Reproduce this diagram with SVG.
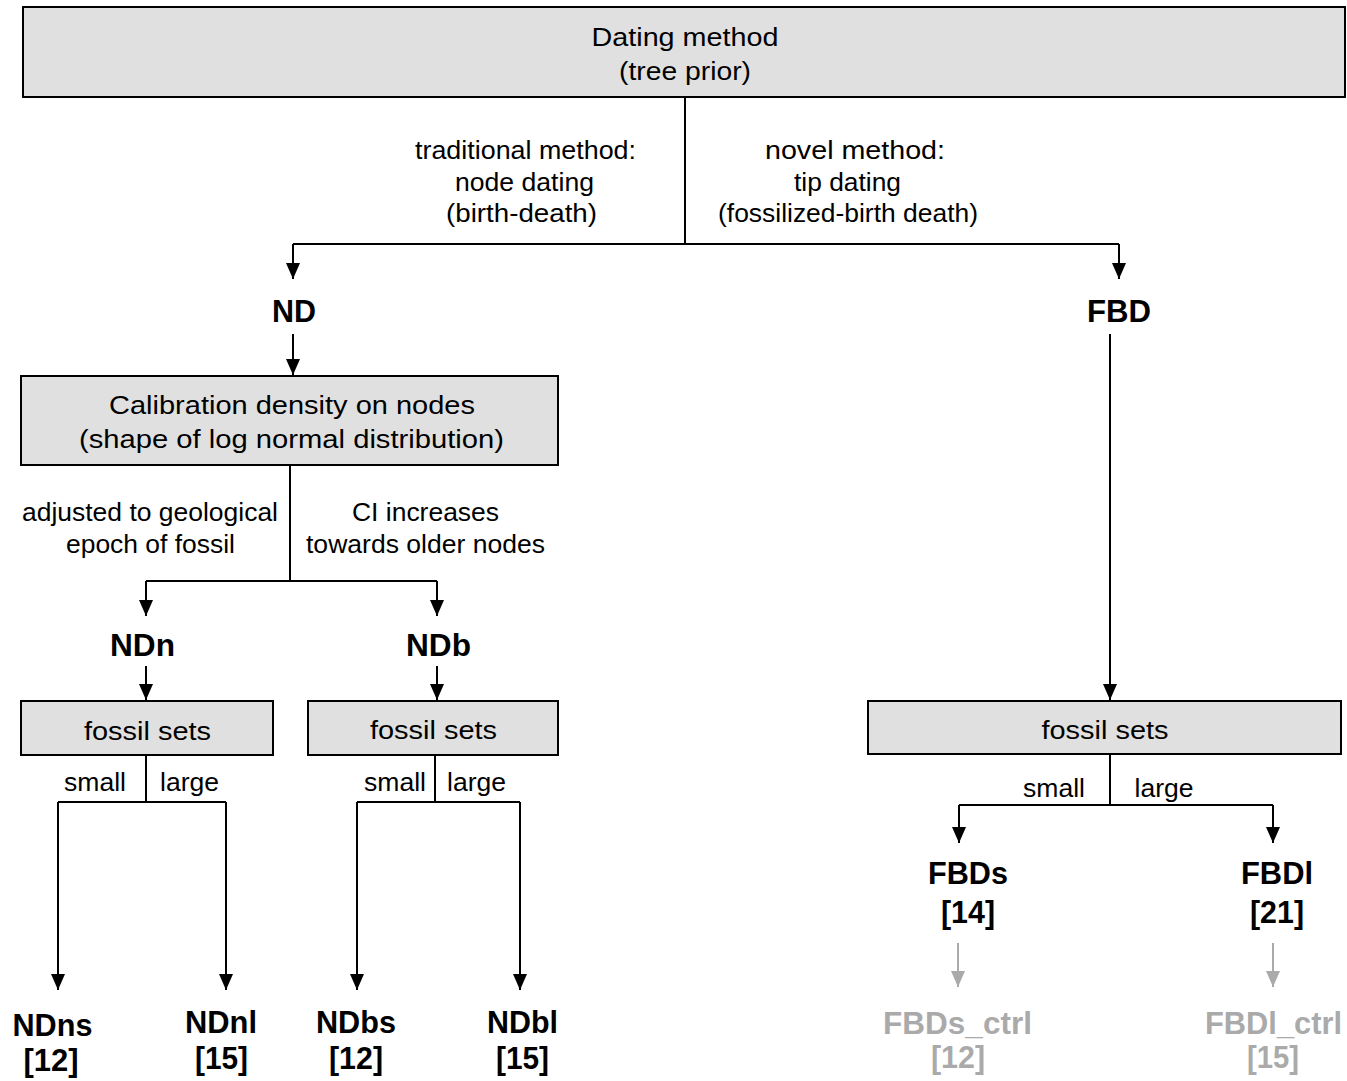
<svg xmlns="http://www.w3.org/2000/svg" width="1347" height="1081" viewBox="0 0 1347 1081">
<style>
.box{fill:#e0e0e0;stroke:#000;stroke-width:2}
.t{font-family:"Liberation Sans",Arial,sans-serif;font-size:26px;text-anchor:middle;fill:#000}
.b{font-family:"Liberation Sans",Arial,sans-serif;font-size:32px;font-weight:bold;text-anchor:middle;fill:#000}
.g{fill:#aaaaaa}
.ln{fill:none;stroke:#000;stroke-width:2}
.lg{fill:none;stroke:#aaaaaa;stroke-width:2}
</style>
<defs>
<marker id="ah" viewBox="0 0 16 14" refX="16" refY="7" markerWidth="16" markerHeight="14" markerUnits="userSpaceOnUse" orient="auto"><path d="M0,0 L16,7 L0,14 z" fill="#000"/></marker>
<marker id="ahg" viewBox="0 0 16 14" refX="16" refY="7" markerWidth="16" markerHeight="14" markerUnits="userSpaceOnUse" orient="auto"><path d="M0,0 L16,7 L0,14 z" fill="#aaaaaa"/></marker>
</defs>
<rect width="1347" height="1081" fill="#fff"/>
<g id="connectors">
<path class="ln" d="M685,97 V244"/>
<path class="ln" d="M293,244 H1119"/>
<path class="ln" d="M293,244 V279" marker-end="url(#ah)"/>
<path class="ln" d="M1119,244 V279" marker-end="url(#ah)"/>
<path class="ln" d="M293,334 V375" marker-end="url(#ah)"/>
<path class="ln" d="M290,465 V581 M146,581 H437"/>
<path class="ln" d="M146,581 V616" marker-end="url(#ah)"/>
<path class="ln" d="M437,581 V616" marker-end="url(#ah)"/>
<path class="ln" d="M146,666 V700" marker-end="url(#ah)"/>
<path class="ln" d="M437,666 V700" marker-end="url(#ah)"/>
<path class="ln" d="M1110,334 V700" marker-end="url(#ah)"/>
<path class="ln" d="M146,755 V802 M58,802 H226"/>
<path class="ln" d="M58,802 V990" marker-end="url(#ah)"/>
<path class="ln" d="M226,802 V990" marker-end="url(#ah)"/>
<path class="ln" d="M435,755 V802 M357,802 H520"/>
<path class="ln" d="M357,802 V990" marker-end="url(#ah)"/>
<path class="ln" d="M520,802 V990" marker-end="url(#ah)"/>
<path class="ln" d="M1110,754 V805 M959,805 H1273"/>
<path class="ln" d="M959,805 V843" marker-end="url(#ah)"/>
<path class="ln" d="M1273,805 V843" marker-end="url(#ah)"/>
<path class="lg" d="M958,943 V987" marker-end="url(#ahg)"/>
<path class="lg" d="M1273,943 V987" marker-end="url(#ahg)"/>
<text class="t" x="525.5" y="159" textLength="221" lengthAdjust="spacingAndGlyphs">traditional method:</text>
<text class="t" x="524.5" y="191" textLength="139" lengthAdjust="spacingAndGlyphs">node dating</text>
<text class="t" x="521.5" y="222" textLength="151" lengthAdjust="spacingAndGlyphs">(birth-death)</text>
<text class="t" x="855" y="159" textLength="180" lengthAdjust="spacingAndGlyphs">novel method:</text>
<text class="t" x="847.5" y="191" textLength="107" lengthAdjust="spacingAndGlyphs">tip dating</text>
<text class="t" x="848" y="222" textLength="260" lengthAdjust="spacingAndGlyphs">(fossilized-birth death)</text>
<text class="t" x="150" y="521" textLength="256" lengthAdjust="spacingAndGlyphs">adjusted to geological</text>
<text class="t" x="150.5" y="553" textLength="169" lengthAdjust="spacingAndGlyphs">epoch of fossil</text>
<text class="t" x="425.5" y="521" textLength="147" lengthAdjust="spacingAndGlyphs">CI increases</text>
<text class="t" x="425.5" y="553" textLength="239" lengthAdjust="spacingAndGlyphs">towards older nodes</text>
<text class="t" x="95" y="791" textLength="62" lengthAdjust="spacingAndGlyphs">small</text>
<text class="t" x="189.5" y="791" textLength="59" lengthAdjust="spacingAndGlyphs">large</text>
<text class="t" x="395" y="791" textLength="62" lengthAdjust="spacingAndGlyphs">small</text>
<text class="t" x="476.5" y="791" textLength="59" lengthAdjust="spacingAndGlyphs">large</text>
<text class="t" x="1054" y="797" textLength="62" lengthAdjust="spacingAndGlyphs">small</text>
<text class="t" x="1164" y="797" textLength="59" lengthAdjust="spacingAndGlyphs">large</text>
</g>
<g id="dating-method">
<rect class="box" x="23" y="7" width="1322" height="90"/>
<text class="t" x="685" y="46" textLength="187" lengthAdjust="spacingAndGlyphs">Dating method</text>
<text class="t" x="685" y="80" textLength="132" lengthAdjust="spacingAndGlyphs">(tree prior)</text>
</g>
<g id="nd"><text class="b" x="294" y="322" textLength="44" lengthAdjust="spacingAndGlyphs">ND</text></g>
<g id="fbd"><text class="b" x="1119" y="322" textLength="64" lengthAdjust="spacingAndGlyphs">FBD</text></g>
<g id="calibration">
<rect class="box" x="21" y="376" width="537" height="89"/>
<text class="t" x="292" y="414" textLength="366" lengthAdjust="spacingAndGlyphs">Calibration density on nodes</text>
<text class="t" x="291.5" y="448" textLength="425" lengthAdjust="spacingAndGlyphs">(shape of log normal distribution)</text>
</g>
<g id="ndn"><text class="b" x="142.5" y="656" textLength="65" lengthAdjust="spacingAndGlyphs">NDn</text></g>
<g id="ndb"><text class="b" x="438.5" y="656" textLength="65" lengthAdjust="spacingAndGlyphs">NDb</text></g>
<g id="fossil-left">
<rect class="box" x="21" y="701" width="252" height="54"/>
<text class="t" x="147.5" y="740" textLength="127" lengthAdjust="spacingAndGlyphs">fossil sets</text>
</g>
<g id="fossil-mid">
<rect class="box" x="308" y="701" width="250" height="54"/>
<text class="t" x="433.5" y="739" textLength="127" lengthAdjust="spacingAndGlyphs">fossil sets</text>
</g>
<g id="fossil-right">
<rect class="box" x="868" y="701" width="473" height="53"/>
<text class="t" x="1105" y="739" textLength="127" lengthAdjust="spacingAndGlyphs">fossil sets</text>
</g>
<g id="ndns"><text class="b" x="52.5" y="1036" textLength="80" lengthAdjust="spacingAndGlyphs">NDns</text><text class="b" x="51" y="1071" textLength="55" lengthAdjust="spacingAndGlyphs">[12]</text></g>
<g id="ndnl"><text class="b" x="221" y="1033" textLength="72" lengthAdjust="spacingAndGlyphs">NDnl</text><text class="b" x="221.5" y="1069" textLength="53" lengthAdjust="spacingAndGlyphs">[15]</text></g>
<g id="ndbs"><text class="b" x="356" y="1033" textLength="80" lengthAdjust="spacingAndGlyphs">NDbs</text><text class="b" x="356" y="1069" textLength="54" lengthAdjust="spacingAndGlyphs">[12]</text></g>
<g id="ndbl"><text class="b" x="522.5" y="1033" textLength="71" lengthAdjust="spacingAndGlyphs">NDbl</text><text class="b" x="522.5" y="1069" textLength="53" lengthAdjust="spacingAndGlyphs">[15]</text></g>
<g id="fbds"><text class="b" x="968" y="884" textLength="80" lengthAdjust="spacingAndGlyphs">FBDs</text><text class="b" x="968" y="923" textLength="54" lengthAdjust="spacingAndGlyphs">[14]</text></g>
<g id="fbdl"><text class="b" x="1277" y="884" textLength="72" lengthAdjust="spacingAndGlyphs">FBDl</text><text class="b" x="1277" y="923" textLength="54" lengthAdjust="spacingAndGlyphs">[21]</text></g>
<g id="fbds-ctrl"><text class="b g" x="957.5" y="1034" textLength="149" lengthAdjust="spacingAndGlyphs">FBDs_ctrl</text><text class="b g" x="958" y="1068" textLength="54" lengthAdjust="spacingAndGlyphs">[12]</text></g>
<g id="fbdl-ctrl"><text class="b g" x="1273.5" y="1034" textLength="137" lengthAdjust="spacingAndGlyphs">FBDl_ctrl</text><text class="b g" x="1273" y="1068" textLength="52" lengthAdjust="spacingAndGlyphs">[15]</text></g>
</svg>
